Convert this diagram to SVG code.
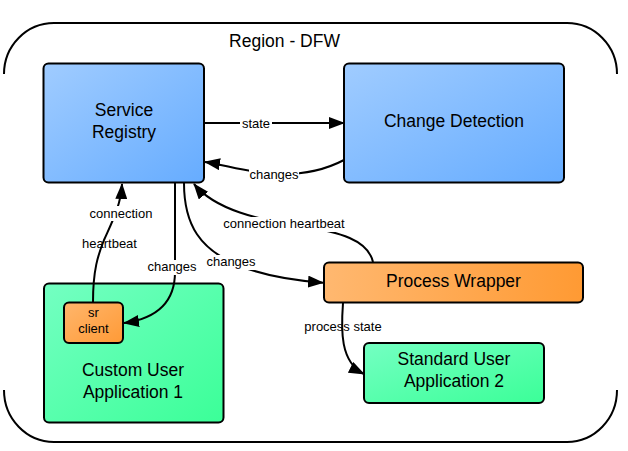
<svg xmlns="http://www.w3.org/2000/svg" width="628" height="451" viewBox="0 0 628 451">
<defs>
<linearGradient id="gBlue" x1="0" y1="0" x2="1" y2="1"><stop offset="0" stop-color="#a0ccff"/><stop offset="1" stop-color="#66acff"/></linearGradient>
<linearGradient id="gGreen" x1="0" y1="0" x2="1" y2="1"><stop offset="0" stop-color="#74ffc2"/><stop offset="1" stop-color="#3bff98"/></linearGradient>
<linearGradient id="gOrange" x1="0" y1="0" x2="1" y2="0"><stop offset="0" stop-color="#ffb870"/><stop offset="1" stop-color="#ff9a33"/></linearGradient>
<linearGradient id="gOrange2" x1="0" y1="0" x2="1" y2="1"><stop offset="0" stop-color="#ffb66c"/><stop offset="1" stop-color="#ff9a36"/></linearGradient>
<marker id="arr" viewBox="0 0 16 12" markerWidth="16" markerHeight="12" markerUnits="userSpaceOnUse" refX="15" refY="6" orient="auto"><path d="M0,0 L16,6 L0,12 z" fill="#000"/></marker>
</defs>
<style>
.node{stroke:#000;stroke-width:2}
.nt{font-family:"Liberation Sans",Arial,sans-serif;font-size:17.5px;fill:#000;text-anchor:middle}
.lt{font-family:"Liberation Sans",Arial,sans-serif;font-size:13px;fill:#000;text-anchor:middle}
.edge{fill:none;stroke:#000;stroke-width:2;marker-end:url(#arr)}
.bg{fill:#fff}
</style>
<rect width="628" height="451" fill="#fff"/>
<g id="region">
<path d="M4,74 A50,51 0 0 1 54,23 L567,23 A50,51 0 0 1 617,74" fill="none" stroke="#000" stroke-width="2"/>
<path d="M617,390 A50,52 0 0 1 567,442 L54,442 A50,52 0 0 1 4,390" fill="none" stroke="#000" stroke-width="2"/>
<text class="nt" x="284.5" y="46.5">Region - DFW</text>
</g>
<g id="service-registry">
<rect class="node" x="43.5" y="63.5" width="160.5" height="119" rx="5" fill="url(#gBlue)"/>
<text class="nt" x="124" y="116">Service</text>
<text class="nt" x="124" y="138">Registry</text>
</g>
<g id="change-detection">
<rect class="node" x="344" y="63.5" width="220" height="119" rx="5" fill="url(#gBlue)"/>
<text class="nt" x="454" y="126.5">Change Detection</text>
</g>
<g id="custom-user-app">
<rect class="node" x="44" y="283.5" width="179.5" height="139" rx="5" fill="url(#gGreen)"/>
<text class="nt" x="133" y="376">Custom User</text>
<text class="nt" x="133" y="397.5">Application 1</text>
</g>
<g id="sr-client">
<rect class="node" x="64" y="302.5" width="59" height="40.5" rx="5" fill="url(#gOrange2)"/>
<text class="lt" x="93.5" y="317">sr</text>
<text class="lt" x="93.5" y="333">client</text>
</g>
<g id="process-wrapper">
<rect class="node" x="324" y="262.5" width="259" height="40" rx="5" fill="url(#gOrange)"/>
<text class="nt" x="453.5" y="286.5">Process Wrapper</text>
</g>
<g id="standard-user-app">
<rect class="node" x="364" y="343" width="180" height="60" rx="5" fill="url(#gGreen)"/>
<text class="nt" x="454" y="365">Standard User</text>
<text class="nt" x="454" y="387">Application 2</text>
</g>
<g id="connectors">
<path class="edge" d="M204,123 L344,123"/>
<path class="edge" d="M344,160 C325,170 300,175 275,174 C250,173 225,165 205,162"/>
<path class="edge" d="M93,302 C93,270 98,255 104,240 C112,222 121,205 122,184"/>
<path class="edge" d="M175,183 L175,272 C175,300 160,318 124,323"/>
<path class="edge" d="M184,183 C184,225 200,250 240,266 C270,278 300,281 323,282.7"/>
<path class="edge" d="M373,262 C368,240 340,232 300,226 C260,220 215,210 194,184"/>
<path class="edge" d="M343,303 C341,330 340,362 364,374"/>
<rect class="bg" x="240" y="116" width="32" height="15"/>
<text class="lt" x="256" y="127.5">state</text>
<rect class="bg" x="249" y="167" width="50" height="15"/>
<text class="lt" x="274" y="178.5">changes</text>
<rect class="bg" x="88" y="206" width="66" height="15"/>
<text class="lt" x="121" y="217.5">connection</text>
<text class="lt" x="109.5" y="247.5">heartbeat</text>
<rect class="bg" x="147" y="260" width="50" height="15"/>
<text class="lt" x="172" y="271">changes</text>
<rect class="bg" x="206" y="255" width="50" height="15"/>
<text class="lt" x="231" y="266">changes</text>
<rect class="bg" x="222" y="217" width="124" height="15"/>
<text class="lt" x="284" y="228">connection heartbeat</text>
<text class="lt" x="343" y="331">process state</text>
</g>
</svg>
